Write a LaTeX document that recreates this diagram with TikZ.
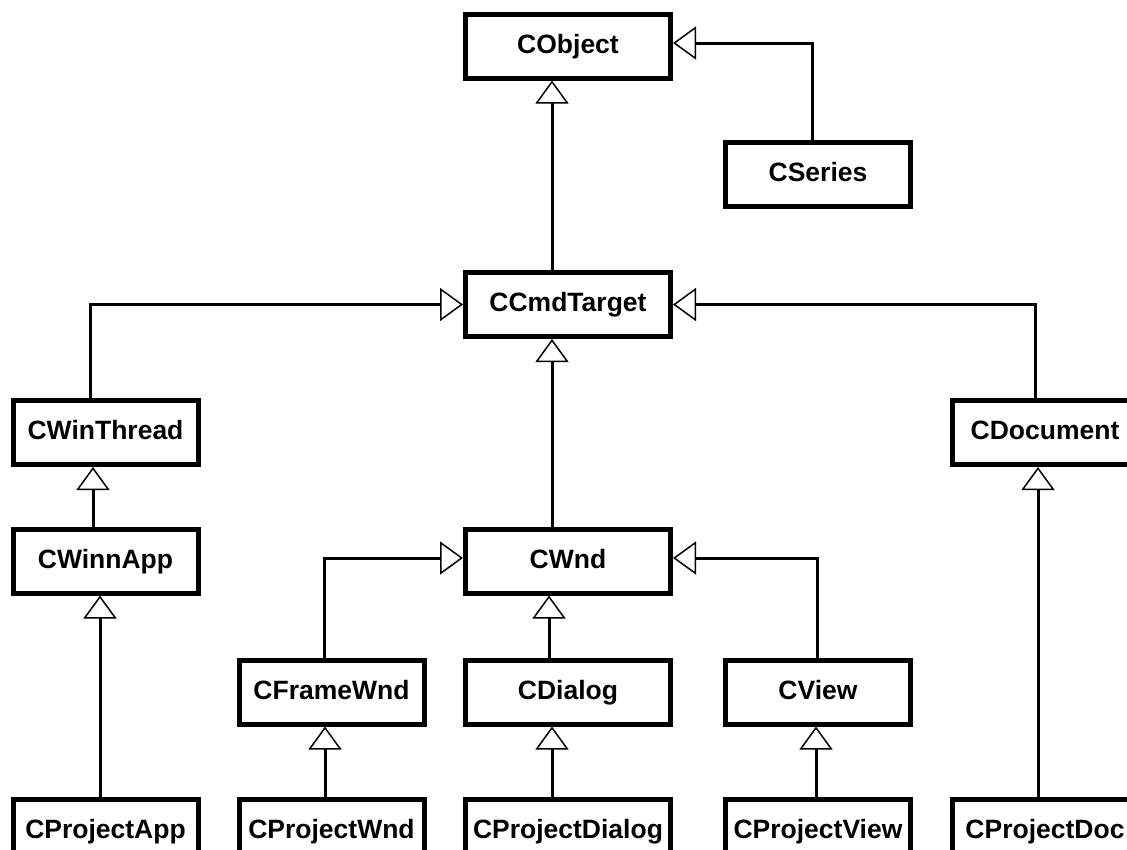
\documentclass[tikz,border=0pt]{standalone}
\usepackage{fontspec}
\setmainfont{Liberation Sans}
\usetikzlibrary{arrows.meta,calc}

\tikzset{
  cls/.style={draw=black, line width=5pt, fill=white, inner sep=0pt, outer sep=2.5pt,
    minimum height=64pt, text height=18.6pt, text depth=4pt,
    font=\fontsize{26.5}{30}\selectfont\bfseries},
  widebox/.style={cls, minimum width=205pt},
  narrowbox/.style={cls, minimum width=185pt},
  inh/.style={line width=3pt,
    -{Triangle[length=23pt, width=33pt, fill=white, line width=1.5pt]}},
}

\begin{document}
\begin{tikzpicture}[x=1pt, y=-1pt]
  \useasboundingbox (0,0) rectangle (1127,849);
  \clip (0,0) rectangle (1127,849);

  % class boxes
  \node[widebox]   (cobject)    at (568,46)     {CObject};
  \node[narrowbox] (cseries)    at (818,174)    {CSeries};
  \node[widebox]   (ccmd)       at (568,304.5)  {CCmdTarget};
  \node[narrowbox] (cwinthread) at (105.5,432.5){CWinThread};
  \node[narrowbox] (cdocument)  at (1045,432.5) {CDocument};
  \node[narrowbox] (cwinnapp)   at (105.5,561)  {CWinnApp};
  \node[widebox]   (cwnd)       at (568,561)    {CWnd};
  \node[narrowbox] (cframewnd)  at (331.5,692)  {CFrameWnd};
  \node[widebox]   (cdialog)    at (568,692)    {CDialog};
  \node[narrowbox] (cview)      at (818,692)    {CView};
  \node[narrowbox] (cprojapp)   at (105.5,831.5){CProjectApp};
  \node[narrowbox] (cprojwnd)   at (331.5,831.5){CProjectWnd};
  \node[widebox]   (cprojdlg)   at (568,831.5)  {CProjectDialog};
  \node[narrowbox] (cprojview)  at (818,831.5)  {CProjectView};
  \node[narrowbox] (cprojdoc)   at (1045,831.5) {CProjectDoc};

  % inheritance links (hollow triangle at the base class)
  \draw[inh] ($(cseries.north)+(-6,0)$) |- ($(cobject.east)+(0,-3)$);
  \coordinate (l2) at ($(ccmd.north)+(-16,0)$);
  \draw[inh] (l2) -- (l2 |- cobject.south);
  \draw[inh] ($(cwinthread.north)+(-15.5,0)$) |- (ccmd.west);
  \draw[inh] ($(cdocument.north)+(-10,0)$) |- (ccmd.east);
  \coordinate (l5) at ($(cwnd.north)+(-16,0)$);
  \draw[inh] (l5) -- (l5 |- ccmd.south);
  \coordinate (l6) at ($(cwinnapp.north)+(-12.5,0)$);
  \draw[inh] (l6) -- (l6 |- cwinthread.south);
  \coordinate (l7) at ($(cprojapp.north)+(-5.5,0)$);
  \draw[inh] (l7) -- (l7 |- cwinnapp.south);
  \draw[inh] ($(cframewnd.north)+(-7.5,0)$) |- ($(cwnd.west)+(0,-3)$);
  \coordinate (l9) at ($(cdialog.north)+(-19,0)$);
  \draw[inh] (l9) -- (l9 |- cwnd.south);
  \draw[inh] ($(cview.north)+(-1,0)$) |- ($(cwnd.east)+(0,-3)$);
  \coordinate (l11) at ($(cprojwnd.north)+(-6.5,0)$);
  \draw[inh] (l11) -- (l11 |- cframewnd.south);
  \coordinate (l12) at ($(cprojdlg.north)+(-16,0)$);
  \draw[inh] (l12) -- (l12 |- cdialog.south);
  \coordinate (l13) at ($(cprojview.north)+(-2,0)$);
  \draw[inh] (l13) -- (l13 |- cview.south);
  \coordinate (l14) at ($(cprojdoc.north)+(-7,0)$);
  \draw[inh] (l14) -- (l14 |- cdocument.south);
\end{tikzpicture}
\end{document}
